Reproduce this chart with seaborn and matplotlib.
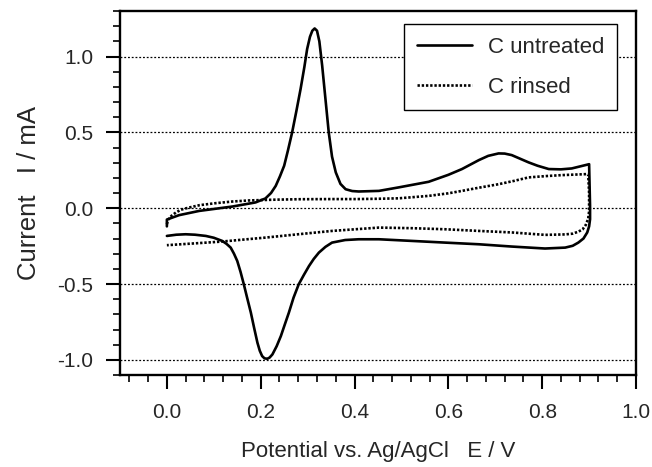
import numpy as np
import pandas as pd
from matplotlib import pyplot as plt
from matplotlib.ticker import MultipleLocator, FormatStrFormatter
import seaborn as sns

# values (E in V, I in mA), in scan order
untreated_E = [0.0, 0.0, 0.026, 0.069, 0.14, 0.189, 0.21, 0.222, 0.232, 0.241, 0.25, 0.258,
               0.267, 0.276, 0.285, 0.293, 0.299, 0.305, 0.31, 0.315, 0.32, 0.325, 0.331,
               0.338, 0.345, 0.352, 0.36, 0.37, 0.381, 0.395, 0.409, 0.452, 0.494, 0.558,
               0.6, 0.629, 0.665, 0.685, 0.707, 0.72, 0.735, 0.75, 0.771, 0.79, 0.814, 0.84,
               0.863, 0.9, 0.902, 0.902, 0.9, 0.896, 0.888, 0.877, 0.865, 0.849, 0.806,
               0.735, 0.665, 0.593, 0.523, 0.452, 0.409, 0.38, 0.352, 0.338, 0.324, 0.313,
               0.303, 0.292, 0.281, 0.27, 0.26, 0.251, 0.243, 0.234, 0.225, 0.219, 0.214,
               0.208, 0.203, 0.198, 0.193, 0.186, 0.179, 0.171, 0.164, 0.157, 0.15, 0.143,
               0.136, 0.127, 0.118, 0.1, 0.083, 0.06, 0.04, 0.02, 0.0]
untreated_I = [-0.12, -0.075, -0.046, -0.018, 0.011, 0.038, 0.064, 0.1, 0.147, 0.21, 0.28,
               0.38, 0.5, 0.64, 0.786, 0.93, 1.05, 1.13, 1.17, 1.185, 1.17, 1.1, 0.94, 0.72,
               0.5, 0.34, 0.236, 0.16, 0.125, 0.113, 0.11, 0.114, 0.137, 0.174, 0.22, 0.258,
               0.317, 0.345, 0.361, 0.36, 0.35, 0.33, 0.302, 0.28, 0.258, 0.256, 0.262, 0.29,
               0.015, -0.073, -0.12, -0.16, -0.2, -0.227, -0.248, -0.26, -0.266, -0.253,
               -0.238, -0.227, -0.216, -0.205, -0.205, -0.21, -0.227, -0.255, -0.293, -0.335,
               -0.381, -0.44, -0.502, -0.59, -0.689, -0.77, -0.843, -0.91, -0.964, -0.985,
               -0.993, -0.99, -0.975, -0.94, -0.887, -0.79, -0.689, -0.59, -0.502, -0.42,
               -0.348, -0.3, -0.26, -0.235, -0.216, -0.195, -0.183, -0.175, -0.172, -0.175,
               -0.183]

rinsed_E = [0.0, 0.003, 0.01, 0.019, 0.03, 0.047, 0.07, 0.104, 0.14, 0.175, 0.23, 0.281,
            0.35, 0.404, 0.45, 0.494, 0.558, 0.6, 0.629, 0.665, 0.707, 0.74, 0.771, 0.81,
            0.842, 0.898, 0.9, 0.9, 0.898, 0.893, 0.886, 0.877, 0.865, 0.849, 0.806, 0.735,
            0.665, 0.593, 0.523, 0.452, 0.352, 0.28, 0.21, 0.16, 0.118, 0.06, 0.0]
rinsed_I = [-0.105, -0.075, -0.05, -0.029, -0.01, 0.004, 0.02, 0.033, 0.044, 0.051, 0.056,
            0.059, 0.06, 0.06, 0.062, 0.065, 0.081, 0.098, 0.114, 0.135, 0.158, 0.18, 0.203,
            0.212, 0.218, 0.225, 0.1, -0.02, -0.07, -0.11, -0.14, -0.155, -0.168, -0.173,
            -0.176, -0.16, -0.15, -0.139, -0.132, -0.128, -0.15, -0.172, -0.194, -0.208,
            -0.22, -0.232, -0.244]

df = pd.concat([
    pd.DataFrame({"E": untreated_E, "I": untreated_I, "sample": "C untreated"}),
    pd.DataFrame({"E": rinsed_E, "I": rinsed_I, "sample": "C rinsed"}),
], ignore_index=True)

sns.set_style("ticks")
plt.rcParams["font.family"] = ["Liberation Sans", "DejaVu Sans"]
plt.rcParams["axes.unicode_minus"] = False

fig, ax = plt.subplots(figsize=(6.52, 4.67), dpi=100)
fig.subplots_adjust(left=0.184, right=0.9755, top=0.9764, bottom=0.197)

sns.lineplot(
    data=df, x="E", y="I", style="sample", sort=False, estimator=None,
    color="black", linewidth=1.9,
    dashes={"C untreated": "", "C rinsed": (0.9, 0.7)},
    ax=ax,
)

ax.set_xlim(-0.1, 1.0)
ax.set_ylim(-1.1, 1.3)
ax.xaxis.set_minor_locator(MultipleLocator(0.04))
ax.yaxis.set_minor_locator(MultipleLocator(0.1))
ax.set_xticks([0.0, 0.2, 0.4, 0.6, 0.8, 1.0])
ax.set_yticks([-1.0, -0.5, 0.0, 0.5, 1.0])
ax.xaxis.set_major_formatter(FormatStrFormatter("%.1f"))
ax.yaxis.set_major_formatter(FormatStrFormatter("%.1f"))

ax.grid(axis="y", which="major", color="black", linestyle=(0, (1.5, 1.5)), linewidth=0.9)
for s in ax.spines.values():
    s.set_linewidth(1.7)
    s.set_color("black")
ax.tick_params(which="major", direction="out", length=10, width=1.5, labelsize=15, color="black")
ax.tick_params(which="minor", direction="out", length=5, width=1.2, color="black")
ax.tick_params(axis="x", which="major", pad=10)
ax.tick_params(axis="y", which="major", pad=9)

ax.set_xlabel("Potential vs. Ag/AgCl   E / V", fontsize=16, labelpad=14)
ax.set_ylabel("Current   I / mA", fontsize=18.5, labelpad=12)

leg = ax.legend(
    loc="upper right", bbox_to_anchor=(0.963, 0.964), borderaxespad=0,
    fontsize=16, frameon=True, fancybox=False, edgecolor="black",
    borderpad=0.57, labelspacing=0.85, handlelength=2.5, handletextpad=0.7,
)
leg.get_frame().set_linewidth(1.0)
leg.get_frame().set_alpha(1)

plt.savefig("out.png", dpi=100)
